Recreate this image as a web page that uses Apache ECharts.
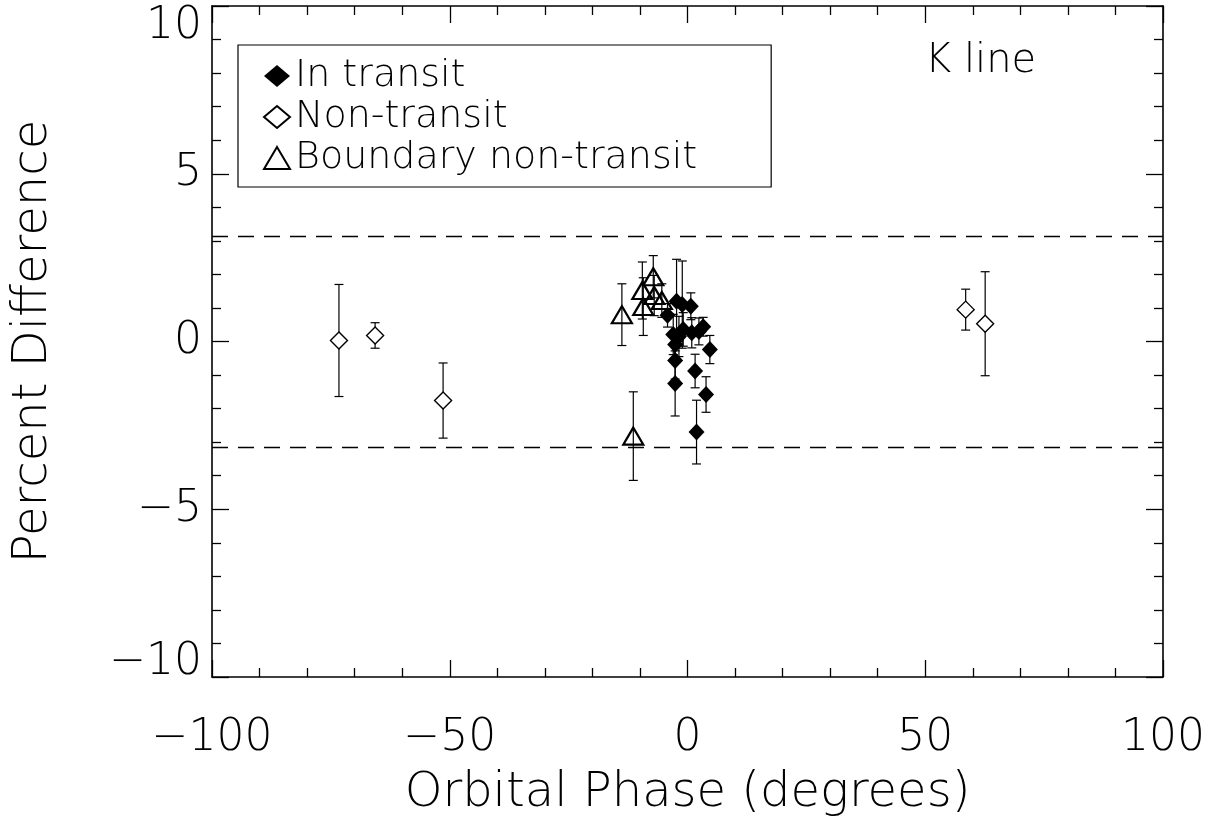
<!DOCTYPE html>
<html>
<head>
<meta charset="utf-8">
<script src="https://cdn.jsdelivr.net/npm/echarts@6/dist/echarts.min.js"></script>
<style>
  html, body { margin: 0; padding: 0; background: #fff; }
  #main { width: 1222px; height: 830px; }
</style>
</head>
<body>
<div id="main"></div>
<script>
// data: orbital phase (deg), percent difference, error
var inTransitX   = [-4.2, -2.3, -1.1, 0.7, 3.3, 4.7, -0.9, -3.0, 0.9, -2.6, -2.6, -2.6, 1.6, 3.9, 1.9, -1.8, 2.4];
var inTransitY   = [0.78, 1.20, 1.10, 1.05, 0.44, -0.24, 0.36, 0.21, 0.26, -0.09, -0.57, -1.25, -0.88, -1.58, -2.70, 0.15, 0.30];
var inTransitErr = [0.35, 1.25, 1.30, 0.40, 0.28, 0.42, 0.50, 0.60, 0.45, 0.40, 0.55, 0.97, 0.50, 0.53, 0.95, 0.60, 0.40];

var nonTransitX   = [-73.3, -65.7, -51.4, 58.5, 62.6];
var nonTransitY   = [0.03, 0.18, -1.76, 0.95, 0.53];
var nonTransitErr = [1.67, 0.38, 1.12, 0.61, 1.55];

var boundaryX   = [-13.8, -11.4, -9.5, -9.3, -7.2, -7.0, -5.4];
var boundaryY   = [0.80, -2.82, 1.52, 1.04, 1.93, 1.37, 1.22];
var boundaryErr = [0.92, 1.32, 0.85, 0.86, 0.63, 0.60, 0.50];

var limitLines = [3.14, -3.14];
var seriesNames = ['In transit', 'Non-transit', 'Boundary non-transit'];

var FONT = 'DejaVu Sans';

function zip(xs, ys, es) {
  return xs.map(function (x, i) { return [x, ys[i], es[i]]; });
}
function minus(v) { return String(v).replace('-', '\u2212'); }
// end labels of the y axis sit inside the box, like the original
function yLabel(v) {
  if (v === 10) return '{top|' + minus(v) + '}';
  if (v === -10) return '{bot|' + minus(v) + '}';
  return minus(v);
}

function errRender(params, api) {
  var x = api.value(0), y = api.value(1), e = api.value(2);
  var t = api.coord([x, y + e]), b = api.coord([x, y - e]);
  var w = 4.5;
  var st = { stroke: '#000', lineWidth: 1.2 };
  return {
    type: 'group',
    children: [
      { type: 'line', shape: { x1: t[0], y1: t[1], x2: b[0], y2: b[1] }, style: st },
      { type: 'line', shape: { x1: t[0] - w, y1: t[1], x2: t[0] + w, y2: t[1] }, style: st },
      { type: 'line', shape: { x1: b[0] - w, y1: b[1], x2: b[0] + w, y2: b[1] }, style: st }
    ]
  };
}

function errSeries(d) {
  return { type: 'custom', renderItem: errRender, data: d, encode: { x: 0, y: 1 }, z: 3, silent: true };
}

var chart = echarts.init(document.getElementById('main'));

function axisCommon() {
  return {
    axisLine: { onZero: false, lineStyle: { color: '#000', width: 1.6 } },
    axisTick: { inside: true, length: 17, lineStyle: { color: '#000', width: 1.3 } },
    minorTick: { show: true, splitNumber: 5, length: 9, lineStyle: { color: '#000', width: 1.3 } },
    splitLine: { show: false }
  };
}

var labelFont = { fontFamily: FONT, fontWeight: 200, fontSize: 44, color: '#000' };

var option = {
  animation: false,
  backgroundColor: '#fff',
  textStyle: { fontFamily: FONT, fontWeight: 200, color: '#000' },
  grid: { left: 212, right: 59, top: 6, bottom: 153, outerBoundsMode: 'none', containLabel: false },
  legend: {
    data: seriesNames,
    orient: 'vertical',
    left: 238, top: 45,
    padding: [12, 74, 10, 25],
    itemGap: 3,
    itemWidth: 26, itemHeight: 22,
    borderColor: '#000', borderWidth: 1.2,
    textStyle: { fontFamily: FONT, fontWeight: 200, fontSize: 38, lineHeight: 37, color: '#000' }
  },
  xAxis: [
    Object.assign(axisCommon(), {
      type: 'value', min: -100, max: 100, interval: 50,
      name: 'Orbital Phase (degrees)', nameLocation: 'middle', nameGap: 93,
      nameTextStyle: { fontFamily: FONT, fontWeight: 200, fontSize: 48, color: '#000' },
      axisLabel: Object.assign({ margin: 40, formatter: minus }, labelFont)
    }),
    Object.assign(axisCommon(), {
      type: 'value', min: -100, max: 100, interval: 50, position: 'top',
      axisLabel: { show: false }
    })
  ],
  yAxis: [
    Object.assign(axisCommon(), {
      type: 'value', min: -10, max: 10, interval: 5,
      name: 'Percent Difference', nameLocation: 'middle', nameGap: 154,
      nameTextStyle: { fontFamily: FONT, fontWeight: 200, fontSize: 48, color: '#000' },
      axisLabel: Object.assign({
        margin: 10, formatter: yLabel,
        rich: {
          top: Object.assign({ padding: [42, 0, 0, 0] }, labelFont),
          bot: Object.assign({ padding: [0, 0, 28, 0] }, labelFont)
        }
      }, labelFont)
    }),
    Object.assign(axisCommon(), {
      type: 'value', min: -10, max: 10, interval: 5, position: 'right',
      axisLabel: { show: false }
    })
  ],
  graphic: [
    { type: 'text', left: 925, top: 42, style: { text: 'K line', fontFamily: FONT, fontWeight: 200, fontSize: 40, fill: '#000' } }
  ],
  series: [
    errSeries(zip(nonTransitX, nonTransitY, nonTransitErr)),
    errSeries(zip(boundaryX, boundaryY, boundaryErr)),
    errSeries(zip(inTransitX, inTransitY, inTransitErr)),
    {
      name: seriesNames[1], type: 'scatter', symbol: 'diamond', symbolSize: [17, 17], z: 4,
      itemStyle: { color: '#fff', borderColor: '#000', borderWidth: 1.4, opacity: 1 },
      data: zip(nonTransitX, nonTransitY, nonTransitErr),
      markLine: {
        silent: true, symbol: 'none', label: { show: false },
        lineStyle: { color: '#000', type: [16, 10], width: 1.3 },
        data: limitLines.map(function (v) { return { yAxis: v }; })
      }
    },
    {
      name: seriesNames[2], type: 'scatter', symbol: 'triangle', symbolSize: [20, 17], z: 4,
      itemStyle: { color: 'rgba(255,255,255,0)', borderColor: '#000', borderWidth: 2.2, opacity: 1 },
      data: zip(boundaryX, boundaryY, boundaryErr)
    },
    {
      name: seriesNames[0], type: 'scatter', symbol: 'diamond', symbolSize: [16, 17], z: 5,
      itemStyle: { color: '#000', opacity: 1 },
      data: zip(inTransitX, inTransitY, inTransitErr)
    }
  ]
};

chart.setOption(option);
</script>
</body>
</html>
